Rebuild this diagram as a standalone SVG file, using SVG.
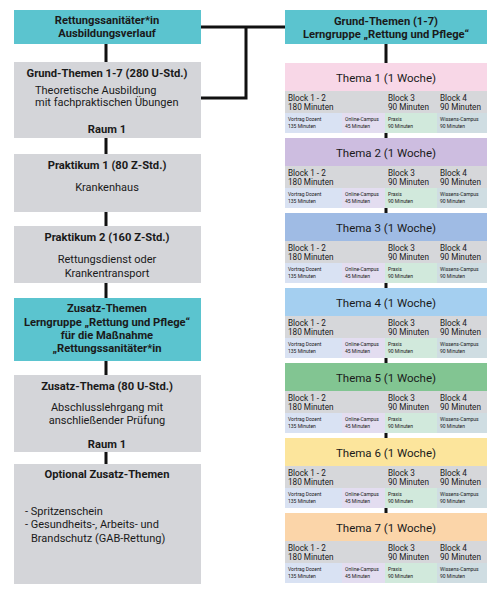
<svg xmlns="http://www.w3.org/2000/svg" width="500" height="597" viewBox="0 0 500 597">
<style>
text{font-family:Roboto,"Liberation Sans",sans-serif;fill:#1a1a1a}
.t{fill:#5bc4cf}
.g{fill:#d4d5d9}
.b{font-weight:bold;font-size:11.2px}
.n{font-size:11px}
.c{text-anchor:middle}
.h{font-size:11.5px;text-anchor:middle}
.k{font-size:8.2px}
.s{font-size:5px}
.ln{stroke:#111;stroke-width:3;fill:none}
.br{fill:#d6d7da}
.v{fill:#d9e2f3}.o{fill:#e3ddf0}.p{fill:#d1e9dc}.w{fill:#cfdde2}
</style>
<g id="connectors">
<path class="ln" d="M106 44V62M106 138V154M106 212V226M106 283V298M106 361V375M106 452V464"/>
<path class="ln" d="M201 27H285M246 27V98H201"/>
<path class="ln" d="M386 44V63M386 133V138M386 208V213M386 283V288M386 358V363M386 433V438M386 508V513"/>
</g>
<g id="n-rs">
<rect class="t" x="14" y="10" width="187" height="34"/>
<text class="b c" x="107" y="24">Rettungssanitäter*in</text>
<text class="b c" x="107" y="37">Ausbildungsverlauf</text>
</g>
<g id="n-grund">
<rect class="g" x="14" y="62" width="187" height="76"/>
<text class="b c" x="107" y="77">Grund-Themen 1-7 (280 U-Std.)</text>
<text class="n" x="35" y="94">Theoretische Ausbildung</text>
<text class="n" x="35" y="106">mit fachpraktischen Übungen</text>
<text class="b c" x="107" y="133">Raum 1</text>
</g>
<g id="n-p1">
<rect class="g" x="14" y="154" width="187" height="58"/>
<text class="b c" x="107" y="169">Praktikum 1 (80 Z-Std.)</text>
<text class="n c" x="107" y="191">Krankenhaus</text>
</g>
<g id="n-p2">
<rect class="g" x="14" y="226" width="187" height="57"/>
<text class="b c" x="107" y="241">Praktikum 2 (160 Z-Std.)</text>
<text class="n c" x="107" y="263">Rettungsdienst oder</text>
<text class="n c" x="107" y="277">Krankentransport</text>
</g>
<g id="n-zusatz">
<rect class="t" x="14" y="298" width="187" height="63"/>
<text class="b c" x="107" y="312">Zusatz-Themen</text>
<text class="b c" x="107" y="326">Lerngruppe „Rettung und Pflege“</text>
<text class="b c" x="107" y="339">für die Maßnahme</text>
<text class="b c" x="107" y="352">„Rettungssanitäter*in</text>
</g>
<g id="n-zthema">
<rect class="g" x="14" y="375" width="187" height="77"/>
<text class="b c" x="107" y="390">Zusatz-Thema (80 U-Std.)</text>
<text class="n c" x="107" y="411">Abschlusslehrgang mit</text>
<text class="n c" x="107" y="424">anschließender Prüfung</text>
<text class="b c" x="107" y="448">Raum 1</text>
</g>
<g id="n-optional">
<rect class="g" x="14" y="464" width="187" height="120"/>
<text class="b c" x="107" y="478">Optional Zusatz-Themen</text>
<text class="n" x="25" y="515">- Spritzenschein</text>
<text class="n" x="25" y="528">- Gesundheits-, Arbeits- und</text>
<text class="n" x="31" y="542">Brandschutz (GAB-Rettung)</text>
</g>
<g id="n-grund-right">
<rect class="t" x="285" y="10" width="202" height="34"/>
<text class="b c" x="386" y="25">Grund-Themen (1-7)</text>
<text class="b c" x="386" y="38">Lerngruppe „Rettung und Pflege“</text>
</g>
<defs>
<g id="blk">
<rect class="br" x="285" y="28" width="202" height="22"/>
<rect class="v" x="285" y="50" width="57" height="20"/>
<rect class="o" x="342" y="50" width="43" height="20"/>
<rect class="p" x="385" y="50" width="52" height="20"/>
<rect class="w" x="437" y="50" width="50" height="20"/>
<text class="k" x="288" y="37.5">Block 1 - 2</text>
<text class="k" x="288" y="47">180 Minuten</text>
<text class="k" x="388" y="37.5">Block 3</text>
<text class="k" x="388" y="47">90 Minuten</text>
<text class="k" x="440" y="37.5">Block 4</text>
<text class="k" x="440" y="47">90 Minuten</text>
<text class="s" x="288" y="58">Vortrag Dozent</text>
<text class="s" x="288" y="64.5">135 Minuten</text>
<text class="s" x="345" y="58">Online-Campus</text>
<text class="s" x="345" y="64.5">45 Minuten</text>
<text class="s" x="388" y="58">Praxis</text>
<text class="s" x="388" y="64.5">90 Minuten</text>
<text class="s" x="440" y="58">Wissens-Campus</text>
<text class="s" x="440" y="64.5">90 Minuten</text>
</g>
</defs>
<g id="thema1" transform="translate(0,63)">
<rect x="285" y="0" width="202" height="28" fill="#f8d7e7"/>
<text class="h" x="386" y="18.5">Thema 1 (1 Woche)</text>
<use href="#blk"/>
</g>
<g id="thema2" transform="translate(0,138)">
<rect x="285" y="0" width="202" height="28" fill="#cdbde0"/>
<text class="h" x="386" y="18.5">Thema 2 (1 Woche)</text>
<use href="#blk"/>
</g>
<g id="thema3" transform="translate(0,213)">
<rect x="285" y="0" width="202" height="28" fill="#9fbbe4"/>
<text class="h" x="386" y="18.5">Thema 3 (1 Woche)</text>
<use href="#blk"/>
</g>
<g id="thema4" transform="translate(0,288)">
<rect x="285" y="0" width="202" height="28" fill="#a4cff0"/>
<text class="h" x="386" y="18.5">Thema 4 (1 Woche)</text>
<use href="#blk"/>
</g>
<g id="thema5" transform="translate(0,363)">
<rect x="285" y="0" width="202" height="28" fill="#82c592"/>
<text class="h" x="386" y="18.5">Thema 5 (1 Woche)</text>
<use href="#blk"/>
</g>
<g id="thema6" transform="translate(0,438)">
<rect x="285" y="0" width="202" height="28" fill="#fce59c"/>
<text class="h" x="386" y="18.5">Thema 6 (1 Woche)</text>
<use href="#blk"/>
</g>
<g id="thema7" transform="translate(0,513)">
<rect x="285" y="0" width="202" height="28" fill="#fbd5a9"/>
<text class="h" x="386" y="18.5">Thema 7 (1 Woche)</text>
<use href="#blk"/>
</g>
</svg>
